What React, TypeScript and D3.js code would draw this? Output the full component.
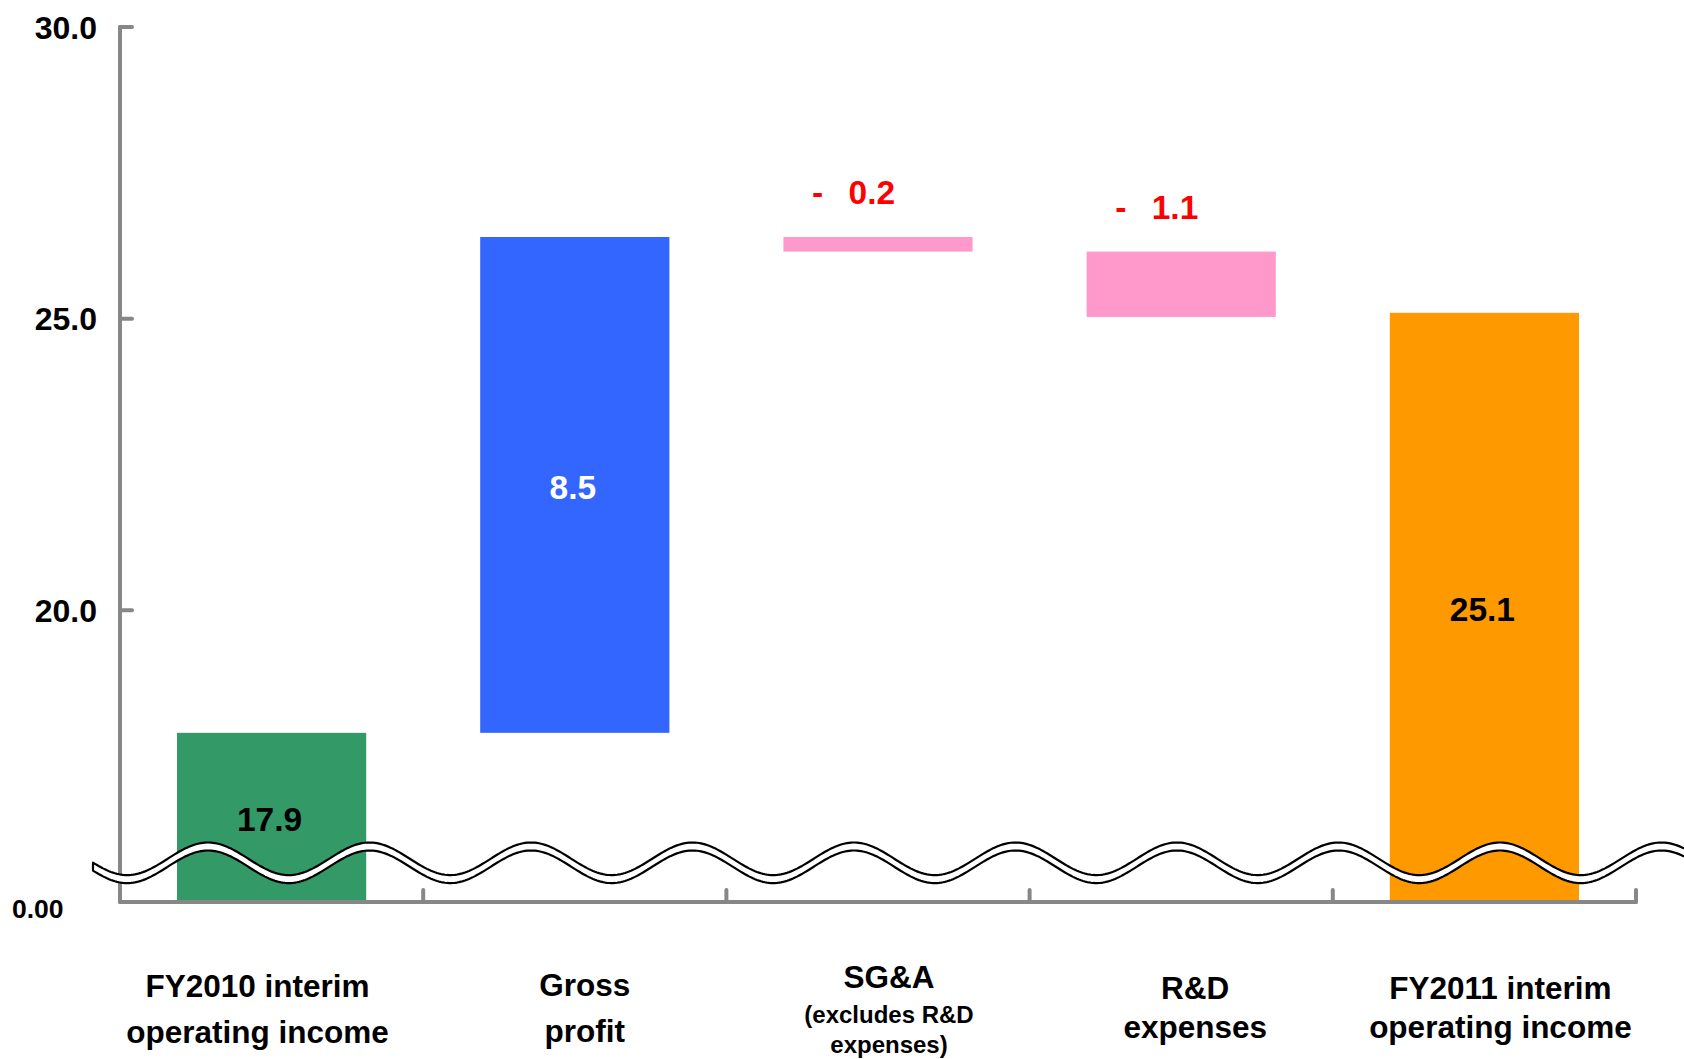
import React from "react";
import * as d3 from "d3";

// ---- data ----
const categoryLines: string[][] = [
  ["FY2010 interim", "operating income"],
  ["Gross", "profit"],
  ["SG&A", "(excludes R&D", "expenses)"],
  ["R&D", "expenses"],
  ["FY2011 interim", "operating income"],
];
// bar extents
const values = [17.9, 8.5, -0.25, -1.12, 25.1];
// value labels as printed on the chart
const valueLabels = ["17.9", "8.5", "0.2", "1.1", "25.1"];
const kinds = ["total", "delta", "delta", "delta", "total"];
const yTicks = [20, 25, 30];
const yTickLabels = ["20.0", "25.0", "30.0"];
const baseLabel = "0.00";
const breakValue = 15;
const topValue = 30;

// ---- styles / layout ----
const W = 1684;
const H = 1059;
const barColors = ["#339966", "#3366FF", "#FF99CC", "#FF99CC", "#FF9900"];
const valueTextColors = ["#000000", "#FFFFFF", "#FF0000", "#FF0000", "#000000"];
const labelDx = [-14, 10, 11, 14, 16];
const axisColor = "#878787";
const FONT = "'Liberation Sans', Arial, Helvetica, sans-serif";

export default function App() {
  const x = d3
    .scaleBand<number>()
    .domain(d3.range(categoryLines.length))
    .range([120, 1636])
    .paddingInner(0.376)
    .paddingOuter(0.188);
  const y = d3.scaleLinear().domain([breakValue, topValue]).range([902, 27]);

  // waterfall geometry
  let running = 0;
  const bars = values.map((v, i) => {
    if (kinds[i] === "total") {
      running = v;
      return { lo: breakValue, hi: v, v };
    }
    const start = running;
    running = start + v;
    return { lo: Math.min(start, running), hi: Math.max(start, running), v };
  });

  const step = x.step();
  const boundaries = d3.range(1, categoryLines.length + 1).map((k) => 120 + k * step);

  // decorative axis-break wave
  const waveFn = (px: number) => 862.8 - 16.3 * Math.cos((2 * Math.PI * (px - 208)) / 161.5);
  const xs = d3.range(93, 1720, 2);
  const upper = xs.map((px) => [px, waveFn(px) - 4] as [number, number]);
  const lower = xs
    .slice()
    .reverse()
    .map((px) => [px, waveFn(px) + 4] as [number, number]);
  const wavePath = d3.line()([...upper, ...lower]) + "Z";

  const lineYs: Record<number, number[]> = {
    0: [997, 1043],
    1: [996, 1042],
    2: [988, 1023, 1053],
    3: [999, 1038],
    4: [999, 1038],
  };
  const lineSizes: Record<number, number[]> = {
    0: [31.5, 31.5],
    1: [31.5, 31.5],
    2: [31.5, 24, 24],
    3: [31.5, 31.5],
    4: [31.5, 31.5],
  };

  return (
    <svg
      width={W}
      height={H}
      style={{ position: "absolute", left: 0, top: 0, display: "block", background: "#fff" }}
      fontFamily={FONT}
    >
      <rect x={0} y={0} width={W} height={H} fill="#fff" />
      {/* bars */}
      {bars.map((b, i) => (
        <rect
          key={"bar" + i}
          x={x(i)!}
          y={y(b.hi)}
          width={x.bandwidth()}
          height={y(b.lo) - y(b.hi)}
          fill={barColors[i]}
        />
      ))}

      {/* axes */}
      <line x1={120} y1={y(topValue)} x2={120} y2={y(breakValue)} stroke={axisColor} strokeWidth={4} strokeLinecap="round" />
      <line x1={120} y1={y(breakValue)} x2={boundaries[boundaries.length - 1]} y2={y(breakValue)} stroke={axisColor} strokeWidth={4} strokeLinecap="round" />
      {yTicks.map((t) => (
        <line key={"yt" + t} x1={120} x2={132} y1={y(t)} y2={y(t)} stroke={axisColor} strokeWidth={4} strokeLinecap="round" />
      ))}
      {boundaries.map((bx, k) => (
        <line key={"xt" + k} x1={bx} x2={bx} y1={y(breakValue)} y2={y(breakValue) - 12} stroke={axisColor} strokeWidth={4} strokeLinecap="round" />
      ))}

      {/* y tick labels */}
      {yTicks.map((t, i) => (
        <text key={"yl" + t} x={97} y={y(t)} dy="0.36em" textAnchor="end" fontSize={32} fontWeight="bold" fill="#000">
          {yTickLabels[i]}
        </text>
      ))}
      <text x={12} y={y(breakValue) + 6} dy="0.36em" fontSize={26.5} fontWeight="bold" fill="#000">
        {baseLabel}
      </text>

      {/* value labels */}
      {bars.map((b, i) => {
        const cx = x(i)! + x.bandwidth() / 2;
        if (b.v < 0) {
          const by = y(b.hi) - 33;
          return (
            <text key={"vl" + i} y={by} fontSize={33.5} fontWeight="bold" fill={valueTextColors[i]}>
              <tspan x={cx - 66}>-</tspan>
              <tspan x={cx - 29.5}>{valueLabels[i]}</tspan>
            </text>
          );
        }
        const cy = (y(b.hi) + y(b.lo)) / 2;
        return (
          <text key={"vl" + i} x={cx - 2} y={cy + 2} dy="0.36em" textAnchor="middle" fontSize={33.5} fontWeight="bold" fill={valueTextColors[i]}>
            {valueLabels[i]}
          </text>
        );
      })}

      {/* axis break wave */}
      <path d={wavePath} fill="#fff" stroke="#000" strokeWidth={2.2} strokeLinejoin="round" />

      {/* category labels */}
      {categoryLines.map((lines, i) => {
        const cx = x(i)! + x.bandwidth() / 2 + labelDx[i];
        return (
          <text key={"cl" + i} textAnchor="middle" fontWeight="bold" fill="#000">
            {lines.map((ln, j) => (
              <tspan key={j} x={cx} y={lineYs[i][j]} fontSize={lineSizes[i][j]}>
                {ln}
              </tspan>
            ))}
          </text>
        );
      })}
    </svg>
  );
}
